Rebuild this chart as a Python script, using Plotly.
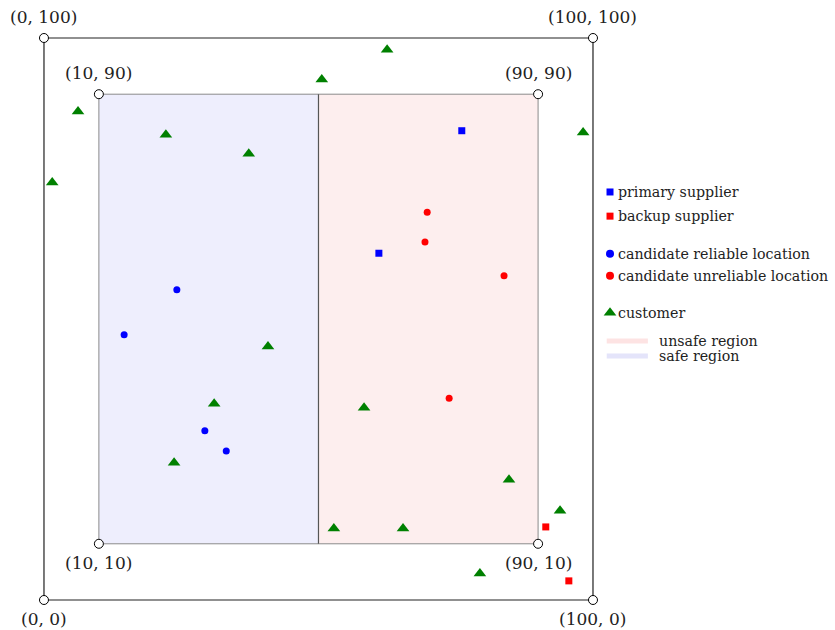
import plotly.graph_objects as go

# ---- data ----
customer_x = [62.5, 50.6, 6.2, 98.2, 22.2, 37.3, 1.5, 40.8, 31.0, 58.3, 23.7, 84.7, 94.0, 52.8, 65.4, 79.4]
customer_y = [97.9, 92.6, 86.9, 83.2, 82.8, 79.4, 74.3, 45.1, 34.9, 34.2, 24.4, 21.4, 15.9, 12.7, 12.7, 4.7]
primary_x = [76.1, 61.0]
primary_y = [83.5, 61.7]
backup_x = [91.4, 95.6]
backup_y = [13.0, 3.4]
reliable_x = [24.2, 14.6, 29.3, 33.2]
reliable_y = [55.2, 47.2, 30.1, 26.5]
unreliable_x = [69.8, 69.4, 83.8, 73.8]
unreliable_y = [69.0, 63.7, 57.7, 35.9]

corner_x = [0, 100, 10, 90, 10, 90, 0, 100]
corner_y = [100, 100, 90, 90, 10, 10, 0, 0]
corner_labels = ["(0, 100)", "(100, 100)", "(10, 90)", "(90, 90)", "(10, 10)", "(90, 10)", "(0, 0)", "(100, 0)"]
corner_above = [True, True, True, True, False, False, False, False]

legend_labels = ["primary supplier", "backup supplier", "candidate reliable location",
                 "candidate unreliable location", "customer"]
legend_y = [72.6, 68.3, 61.6, 57.7, 51.1]
region_labels = ["unsafe region", "safe region"]
region_y = [46.1, 43.4]

FONT = "DejaVu Serif"
fig = go.Figure()

# regions
fig.add_shape(type="rect", x0=10, y0=10, x1=50, y1=90, fillcolor="#eeeefd", line=dict(width=0), layer="below")
fig.add_shape(type="rect", x0=50, y0=10, x1=90, y1=90, fillcolor="#fdeeee", line=dict(width=0), layer="below")
fig.add_shape(type="rect", x0=10, y0=10, x1=90, y1=90, line=dict(color="#8a8a8a", width=1), layer="below")
fig.add_shape(type="line", x0=50, y0=10, x1=50, y1=90, line=dict(color="#555555", width=1.2), layer="below")
fig.add_shape(type="rect", x0=0, y0=0, x1=100, y1=100, line=dict(color="#222222", width=1.2), layer="below")

# data points
fig.add_trace(go.Scatter(x=customer_x, y=customer_y, mode="markers",
                         marker=dict(symbol="triangle-up", size=11, color="#008000"), showlegend=False))
fig.add_trace(go.Scatter(x=primary_x, y=primary_y, mode="markers",
                         marker=dict(symbol="square", size=7, color="#0000ff"), showlegend=False))
fig.add_trace(go.Scatter(x=backup_x, y=backup_y, mode="markers",
                         marker=dict(symbol="square", size=7, color="#ff0000"), showlegend=False))
fig.add_trace(go.Scatter(x=reliable_x, y=reliable_y, mode="markers",
                         marker=dict(symbol="circle", size=7, color="#0000ff"), showlegend=False))
fig.add_trace(go.Scatter(x=unreliable_x, y=unreliable_y, mode="markers",
                         marker=dict(symbol="circle", size=7, color="#ff0000"), showlegend=False))

# corners
fig.add_trace(go.Scatter(x=corner_x, y=corner_y, mode="markers",
                         marker=dict(symbol="circle", size=9, color="white", line=dict(color="black", width=1)),
                         showlegend=False))
for cx, cy, lab, above in zip(corner_x, corner_y, corner_labels, corner_above):
    fig.add_annotation(x=cx, y=cy, text=lab, showarrow=False,
                       yshift=21 if above else -19,
                       font=dict(family=FONT, size=17, color="#222222"))

# manual legend
leg_sym = [("square", "#0000ff", 7), ("square", "#ff0000", 7), ("circle", "#0000ff", 8),
           ("circle", "#ff0000", 8), ("triangle-up", "#008000", 11)]
LX = 103.1
for (sym, col, sz), lab, ly in zip(leg_sym, legend_labels, legend_y):
    fig.add_trace(go.Scatter(x=[LX], y=[ly], mode="markers",
                             marker=dict(symbol=sym, size=sz, color=col), showlegend=False))
    fig.add_annotation(x=LX + 1.0, y=ly, text=lab, showarrow=False, xanchor="left",
                       font=dict(family=FONT, size=14.2, color="#222222"))
for lab, ly, col in zip(region_labels, region_y, ["#fde3e3", "#e4e4fa"]):
    fig.add_shape(type="line", x0=102.5, x1=110.0, y0=ly, y1=ly, line=dict(color=col, width=5))
    fig.add_annotation(x=111.6, y=ly, text=lab, showarrow=False, xanchor="left",
                       font=dict(family=FONT, size=14.2, color="#222222"))

fig.update_layout(
    width=835, height=630, margin=dict(l=0, r=0, t=0, b=0),
    paper_bgcolor="white", plot_bgcolor="white",
    xaxis=dict(range=[-8.01, 144.08], visible=False, fixedrange=True),
    yaxis=dict(range=[-5.34, 106.76], visible=False, fixedrange=True),
)
fig.write_html("out.html")
